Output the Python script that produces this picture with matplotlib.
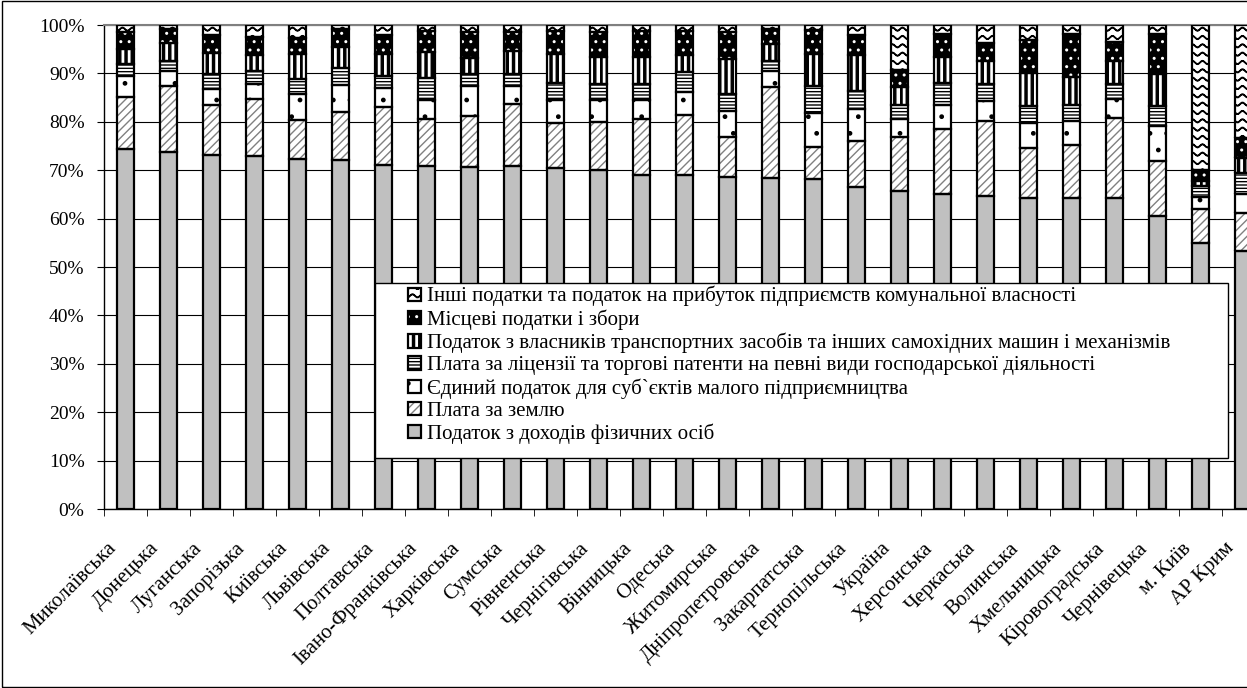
import numpy as np
import matplotlib
matplotlib.use('Agg')
import matplotlib.pyplot as plt
import matplotlib.hatch as mhatch
import matplotlib.transforms as mtransforms
from matplotlib.path import Path
from matplotlib.patches import Rectangle
from matplotlib.ticker import FuncFormatter

# ---------------------------------------------------------------
# data: share of each tax in local budget revenues, %
# ---------------------------------------------------------------
regions = ["Миколаївська", "Донецька", "Луганська", "Запорізька", "Київська",
           "Львівська", "Полтавська", "Івано-Франківська", "Харківська", "Сумська",
           "Рівненська", "Чернігівська", "Вінницька", "Одеська", "Житомирська",
           "Дніпропетровська", "Закарпатська", "Тернопільська", "Україна",
           "Херсонська", "Черкаська", "Волинська", "Хмельницька",
           "Кіровоградська", "Чернівецька", "м. Київ", "АР Крим"]

series_names = ["Податок з доходів фізичних осіб",
                "Плата за землю",
                "Єдиний податок для суб`єктів малого підприємництва",
                "Плата за ліцензії та торгові патенти на певні види господарської діяльності",
                "Податок з власників транспортних засобів та інших самохідних машин і механізмів",
                "Місцеві податки і збори",
                "Інші податки та податок на прибуток підприємств комунальної власності"]

pdfo = [74.3, 73.8, 73.1, 72.9, 72.4, 72.1, 71.1, 70.9, 70.7, 70.8, 70.5, 70.0, 69.0, 69.0,
        68.5, 68.3, 68.2, 66.5, 65.7, 65.0, 64.7, 64.3, 64.3, 64.2, 60.5, 55.0, 53.3]
land = [10.9, 13.6, 10.4, 11.8, 7.9, 10.0, 11.9, 9.6, 10.5, 12.8, 9.3, 10.0, 11.5, 12.4,
        8.4, 18.9, 6.6, 9.6, 11.2, 13.5, 15.4, 10.2, 10.9, 16.5, 11.4, 6.9, 7.9]
single_tax = [4.3, 3.0, 3.2, 3.2, 5.4, 5.5, 4.0, 4.0, 6.2, 3.8, 4.7, 4.5, 4.0, 4.7,
              5.4, 3.2, 7.0, 6.5, 3.6, 5.0, 4.2, 5.3, 5.0, 4.0, 7.3, 2.6, 3.8]
licenses = [2.4, 2.2, 3.2, 2.5, 3.1, 3.5, 2.5, 4.5, 2.5, 2.5, 3.6, 3.3, 3.3, 4.1,
            3.4, 2.2, 5.6, 3.7, 3.0, 4.6, 3.5, 3.5, 3.3, 3.1, 4.1, 2.2, 4.5]
vehicles = [3.1, 3.6, 4.4, 3.5, 5.3, 4.3, 4.5, 5.5, 3.3, 4.8, 6.0, 5.5, 5.5, 3.5,
            7.3, 3.5, 6.6, 7.4, 3.6, 5.3, 4.8, 6.7, 5.8, 4.8, 6.6, 1.1, 3.0]
local_fees = [3.5, 3.0, 3.7, 3.7, 3.2, 3.8, 4.0, 4.3, 5.3, 3.8, 4.7, 5.2, 5.5, 5.1,
              5.5, 3.1, 4.9, 4.3, 3.6, 4.7, 3.7, 6.8, 8.8, 3.8, 8.2, 2.2, 4.1]
other = [1.5, 0.8, 2.0, 2.4, 2.7, 0.8, 2.0, 1.2, 1.5, 1.5, 1.2, 1.5, 1.2, 1.2,
         1.5, 0.8, 1.1, 2.0, 9.3, 1.9, 3.7, 3.2, 1.9, 3.6, 1.9, 30.0, 23.4]


# ---------------------------------------------------------------
# extra hatch patterns: 'O' -> thick vertical stripes, '*' -> waves
# ---------------------------------------------------------------
class StripeHatch(mhatch.HatchPatternBase):
    n = 16
    frac = 0.33

    def __init__(self, hatch, density):
        self.num_bands = self.n if 'O' in hatch else 0
        self.num_vertices = self.num_bands * 5

    def set_vertices_and_codes(self, vertices, codes):
        for i in range(self.num_bands):
            x0 = i / self.n
            x1 = x0 + self.frac / self.n
            vertices[5*i:5*i+5] = [(x0, -0.02), (x1, -0.02), (x1, 1.02),
                                   (x0, 1.02), (x0, -0.02)]
            codes[5*i:5*i+5] = [Path.MOVETO, Path.LINETO, Path.LINETO,
                                Path.LINETO, Path.CLOSEPOLY]


class WaveHatch(mhatch.HatchPatternBase):
    rows = 12
    waves = 10
    steps = 80
    amp = 0.016
    thick = 0.006

    def __init__(self, hatch, density):
        self.num_rows = self.rows if '*' in hatch else 0
        self.per_row = 2 * (self.steps + 1) + 1
        self.num_vertices = self.num_rows * self.per_row

    def set_vertices_and_codes(self, vertices, codes):
        xs = np.linspace(-0.03, 1.03, self.steps + 1)
        for i in range(self.num_rows):
            yc = (i + 0.5) / self.rows + self.amp * np.sin(2 * np.pi * self.waves * xs)
            up = np.column_stack([xs, yc + self.thick / 2])
            dn = np.column_stack([xs, yc - self.thick / 2])[::-1]
            k = i * self.per_row
            vertices[k:k + self.per_row] = np.vstack([up, dn, up[:1]])
            codes[k:k + self.per_row] = Path.LINETO
            codes[k] = Path.MOVETO
            codes[k + self.per_row - 1] = Path.CLOSEPOLY


mhatch._hatch_types = [t for t in mhatch._hatch_types
                       if t not in (mhatch.LargeCircles, mhatch.Stars)] + [StripeHatch, WaveHatch]

plt.rcParams['font.family'] = ['Liberation Serif', 'DejaVu Serif']
plt.rcParams['font.size'] = 14
plt.rcParams['hatch.linewidth'] = 1.0

# face colour, hatch, hatch colour for each series (bottom to top)
styles = [("#c0c0c0", None, "#c0c0c0"),
          ("white", "////", "#808080"),
          ("white", ".", "black"),
          ("white", "-----", "black"),
          ("white", "O", "black"),
          ("black", "..", "white"),
          ("white", "*", "black")]

values = np.array([pdfo, land, single_tax, licenses, vehicles, local_fees, other])
shares = values / values.sum(axis=0) * 100.0

x = np.arange(len(regions))

fig = plt.figure(figsize=(12.47, 6.88), dpi=100)
ax = fig.add_axes([104 / 1247, 1 - 509 / 688, 1161 / 1247, 484 / 688])

handles = []
bottom = np.zeros(len(regions))
for i, (face, hatch, hcol) in enumerate(styles):
    b1 = ax.bar(x, shares[i], 0.4, bottom=bottom, color=face, edgecolor=hcol,
                hatch=hatch, linewidth=0, zorder=2)
    b2 = ax.bar(x, shares[i], 0.4, bottom=bottom, fill=False, edgecolor='black',
                linewidth=1.6, zorder=3)
    handles.append((b1[0], b2[0]))
    bottom += shares[i]

ax.set_xlim(-0.5, len(regions) - 0.5)
ax.set_ylim(0, 100)
ax.set_yticks(np.arange(0, 101, 10))
ax.yaxis.set_major_formatter(FuncFormatter(lambda v, p: '%d%%' % v))
ax.set_axisbelow(True)
ax.yaxis.grid(True, color='black', linewidth=0.8)

# category names: rotated, ending a little left of and below each bar
ax.set_xticks(x)
ax.set_xticklabels([])
lbl_trans = ax.get_xaxis_transform() + mtransforms.ScaledTranslation(
    -0.19, -0.30, fig.dpi_scale_trans)
for xi, name in zip(x, regions):
    ax.text(xi, 0, name, transform=lbl_trans, rotation=45, ha='right', va='top',
            rotation_mode='anchor', fontsize=15, clip_on=False)

ax.set_xticks(np.arange(-0.5, len(regions)), minor=True)
ax.tick_params(axis='x', which='major', length=0)
ax.tick_params(axis='x', which='minor', length=5, direction='out', color='black')
ax.tick_params(axis='y', length=5, direction='out', color='black', pad=9)

for s in ('left', 'bottom'):
    ax.spines[s].set_color('black')
    ax.spines[s].set_linewidth(1.0)
ax.spines['top'].set_color('#808080')
ax.spines['top'].set_linewidth(1.5)
ax.spines['right'].set_visible(False)

# legend box
lx0 = (375 - 104) / 1161
ly0 = (509 - 458) / 484
ax.add_patch(Rectangle((lx0, ly0), (1228 - 375) / 1161, (458 - 283) / 484,
                       transform=ax.transAxes, facecolor='white', edgecolor='black',
                       linewidth=1.0, zorder=4))
ax.legend(handles[::-1], series_names[::-1], loc='upper left',
          bbox_to_anchor=((408 - 104) / 1161, (509 - 286) / 484),
          frameon=False, borderpad=0, borderaxespad=0,
          handlelength=0.6, handleheight=0.6, handletextpad=0.3,
          labelspacing=0.14, fontsize=15)

# chart frame
fig.add_artist(Rectangle((0.0016, 0.002), 1.2, 0.996, transform=fig.transFigure,
                         fill=False, edgecolor='black', linewidth=1.0))

fig.savefig('out.png', dpi=100)
